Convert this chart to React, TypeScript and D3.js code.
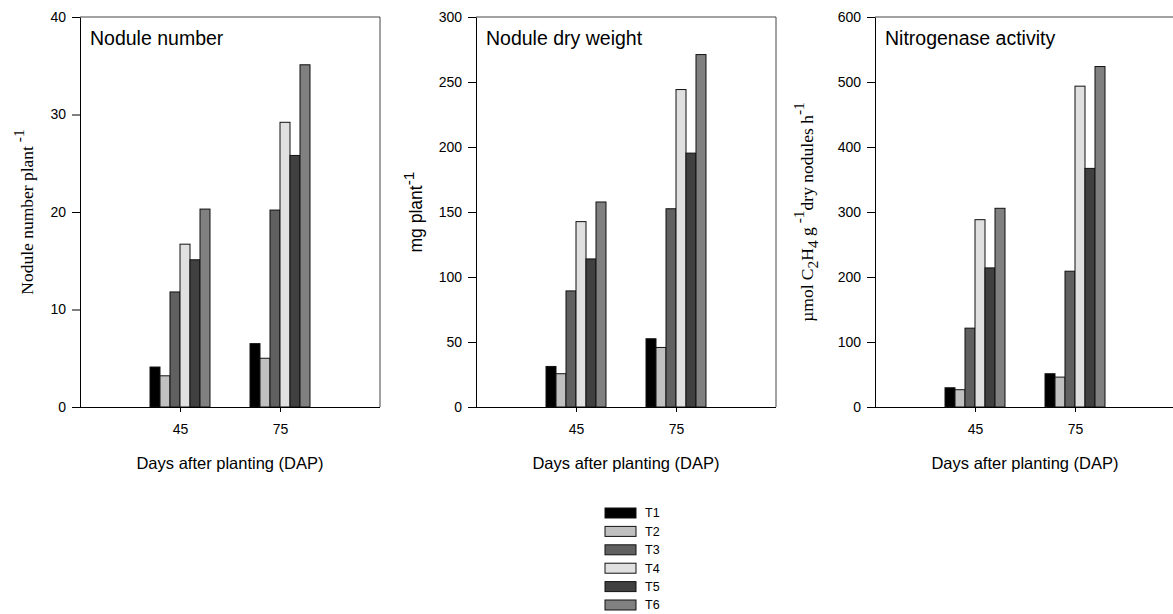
import React, { useRef, useEffect } from 'react';
import * as d3 from 'd3';

// sampling days (DAP) and treatments
const days = ['45', '75'];
const treatments = ['T1', 'T2', 'T3', 'T4', 'T5', 'T6'];
const fills = ['#000000', '#c0c0c0', '#606060', '#e0e0e0', '#404040', '#808080'];

// nodule number per plant
const noduleNumber45 = [4.1, 3.2, 11.8, 16.7, 15.1, 20.3];
const noduleNumber75 = [6.5, 5.0, 20.2, 29.2, 25.8, 35.1];

// nodule dry weight, mg per plant
const dryWeight45 = [31.2, 25.6, 89.3, 142.6, 113.9, 157.7];
const dryWeight75 = [52.5, 45.8, 152.5, 244.2, 195.3, 271.1];

// nitrogenase activity, umol C2H4 per g dry nodules per h
const nitrogenase45 = [29.6, 26.6, 121.3, 288.2, 214.0, 305.7];
const nitrogenase75 = [51.2, 46.0, 208.9, 493.6, 367.1, 523.8];

const yTicks1 = [0, 10, 20, 30, 40];
const yTicks2 = [0, 50, 100, 150, 200, 250, 300];
const yTicks3 = [0, 100, 200, 300, 400, 500, 600];

const SANS = 'Arial, "Liberation Sans", Helvetica, sans-serif';
const SERIF = '"Times New Roman", "Liberation Serif", serif';

function App() {
  const ref = useRef(null);

  useEffect(() => {
    const svg = d3.select(ref.current);
    svg.selectAll('*').remove();

    const top = 17, bottom = 407, panelWidth = 300;

    const panels = [
      {
        left: 80, ticks: yTicks1, title: 'Nodule number', series: [noduleNumber45, noduleNumber75],
        labelX: 33, labelFont: SERIF, labelSize: 17.5,
        label: [{ t: 'Nodule number plant', s: 0 }, { t: ' -1', s: -9 }]
      },
      {
        left: 476, ticks: yTicks2, title: 'Nodule dry weight', series: [dryWeight45, dryWeight75],
        labelX: 422, labelFont: SANS, labelSize: 17.5,
        label: [{ t: 'mg plant', s: 0 }, { t: '-1', s: -8 }]
      },
      {
        left: 875, ticks: yTicks3, title: 'Nitrogenase activity', series: [nitrogenase45, nitrogenase75],
        labelX: 813, labelFont: SERIF, labelSize: 17.5,
        label: [
          { t: 'µmol C', s: 0 }, { t: '2', s: 5 }, { t: 'H', s: 0 }, { t: '4', s: 5 },
          { t: ' g', s: 0 }, { t: ' -1', s: -9 }, { t: 'dry nodules h', s: 0 }, { t: '-1', s: -9 }
        ]
      }
    ];

    panels.forEach(p => {
      const g = svg.append('g');
      const x = d3.scaleLinear().domain([0, 3]).range([p.left, p.left + panelWidth]);
      const y = d3.scaleLinear().domain([0, p.ticks[p.ticks.length - 1]]).range([bottom, top]);
      const inner = d3.scaleBand().domain(treatments).range([-0.3, 0.3]);

      // frame (top + right)
      g.append('path')
        .attr('d', `M${p.left},${top}H${p.left + panelWidth}V${bottom}`)
        .attr('fill', 'none')
        .attr('stroke', '#444')
        .attr('stroke-width', 1);

      // bars
      days.forEach((d, i) => {
        g.append('g').selectAll('rect')
          .data(p.series[i])
          .enter().append('rect')
          .attr('x', (v, j) => x(i + 1 + inner(treatments[j])))
          .attr('y', v => y(v))
          .attr('width', x(inner.bandwidth()) - x(0))
          .attr('height', v => y(0) - y(v))
          .attr('fill', (v, j) => fills[j])
          .attr('stroke', '#111')
          .attr('stroke-width', 1);
      });

      // y axis
      const ya = g.append('g')
        .attr('transform', `translate(${p.left},0)`)
        .call(d3.axisLeft(y).tickValues(p.ticks).tickSizeInner(8).tickSizeOuter(0).tickPadding(6).tickFormat(d3.format('d')));
      ya.selectAll('text').attr('font-family', SANS).attr('font-size', 14).attr('fill', '#000');
      ya.selectAll('line, path').attr('stroke', '#000');

      // x axis
      const xa = g.append('g')
        .attr('transform', `translate(0,${bottom})`)
        .call(d3.axisBottom(x).tickValues([1, 2]).tickSizeInner(5).tickSizeOuter(0).tickPadding(12)
          .tickFormat((v, i) => days[i]));
      xa.select('.domain').attr('d', `M${p.left - 8},0.5H${p.left + panelWidth}`).attr('stroke', '#000');
      xa.selectAll('line').attr('stroke', '#000');
      xa.selectAll('text').attr('font-family', SANS).attr('font-size', 14).attr('fill', '#000');

      // x label
      g.append('text')
        .attr('x', p.left + panelWidth / 2)
        .attr('y', 469)
        .attr('text-anchor', 'middle')
        .attr('font-family', SANS)
        .attr('font-size', 16.5)
        .text('Days after planting (DAP)');

      // title
      g.append('text')
        .attr('x', p.left + 10)
        .attr('y', 45)
        .attr('font-family', SANS)
        .attr('font-size', 19.5)
        .text(p.title);

      // y label
      const yl = g.append('text')
        .attr('transform', `translate(${p.labelX},212) rotate(-90)`)
        .attr('text-anchor', 'middle')
        .attr('font-family', p.labelFont)
        .attr('font-size', p.labelSize);
      let prev = 0;
      p.label.forEach(part => {
        yl.append('tspan')
          .attr('dy', part.s - prev)
          .attr('font-size', part.s !== 0 ? p.labelSize - 2 : p.labelSize)
          .text(part.t);
        prev = part.s;
      });
    });

    // legend
    const legend = svg.append('g')
      .selectAll('g')
      .data(treatments)
      .enter().append('g')
      .attr('transform', (d, i) => `translate(605, ${508 + i * 18.4})`);

    legend.append('rect')
      .attr('width', 31)
      .attr('height', 10)
      .attr('fill', (d, i) => fills[i])
      .attr('stroke', '#111')
      .attr('stroke-width', 1);

    legend.append('text')
      .attr('x', 40)
      .attr('y', 5)
      .attr('dy', '0.35em')
      .attr('font-family', SANS)
      .attr('font-size', 12.5)
      .text(d => d);
  }, []);

  return (
    <svg ref={ref} width={1173} height={614}
      style={{ position: 'absolute', left: 0, top: 0, background: '#fff' }} />
  );
}

export default App;
